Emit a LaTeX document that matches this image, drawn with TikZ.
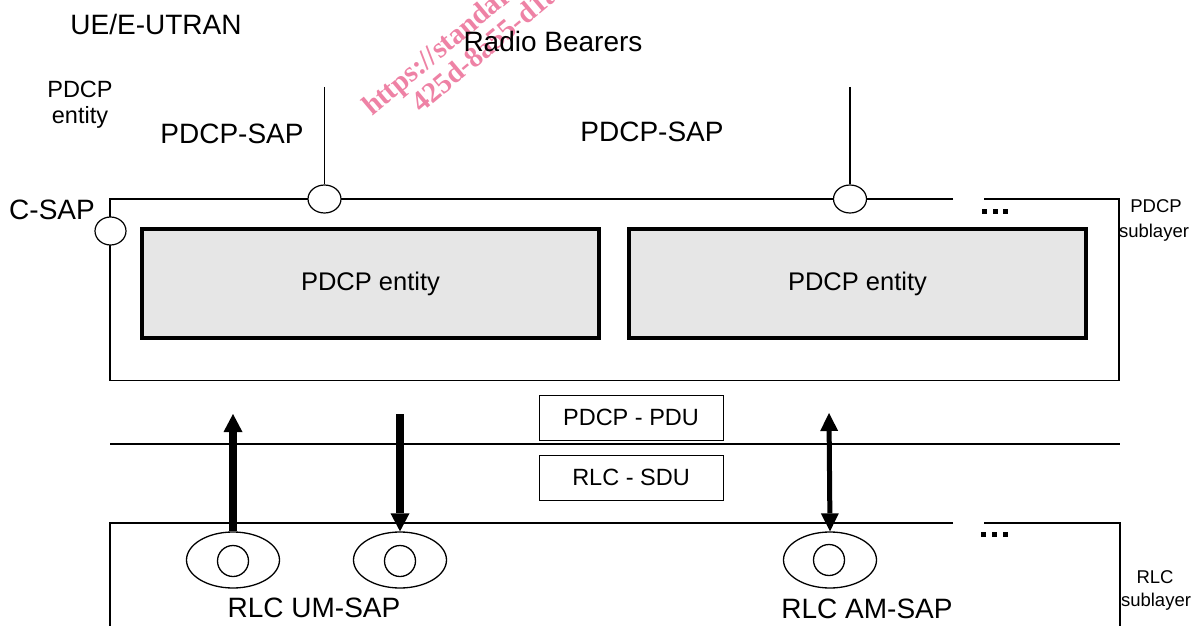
\documentclass[tikz,border=0pt]{standalone}
\usepackage{fontspec}
\setmainfont{Liberation Sans}
\newfontfamily\wmfont{Liberation Serif}
\usetikzlibrary{shapes.geometric,arrows.meta}
\definecolor{wmpink}{RGB}{238,130,165}
\definecolor{entfill}{RGB}{230,230,230}
\begin{document}
\begin{tikzpicture}[x=1pt,y=-1pt,
  frame/.style={line width=1.3pt, line join=miter},
  lbl/.style={inner sep=0pt, anchor=base, font=\fontsize{28}{33}\selectfont},
  small/.style={inner sep=0pt, anchor=base, font=\fontsize{23.5}{27}\selectfont},
  tiny/.style={inner sep=0pt, anchor=base, font=\fontsize{18.5}{22}\selectfont},
  wm/.style={inner sep=0pt, text=wmpink, font=\fontsize{29}{32}\wmfont\bfseries},
  sap/.style={ellipse, draw, fill=white, line width=1.2pt, minimum width=33pt, minimum height=28pt, inner sep=0pt},
  rlcsap/.style={ellipse, draw, line width=1.3pt, minimum width=93pt, minimum height=56pt, inner sep=0pt},
  innercirc/.style={circle, draw, line width=1.3pt, minimum size=31pt, inner sep=0pt},
  entity/.style={draw, fill=entfill, line width=4pt, minimum width=457pt, minimum height=109pt, inner sep=0pt, font=\fontsize{25.5}{30}\selectfont},
  pdubox/.style={draw, line width=1pt, minimum width=184pt, minimum height=45pt, inner sep=0pt, font=\fontsize{23.5}{27}\selectfont},
  bigarrow/.style={line width=8pt, -{Triangle[length=18pt,width=19pt,line width=0pt]}},
  dblarrow/.style={line width=5pt, {Triangle[length=18pt,width=18pt,line width=0pt]}-{Triangle[length=18pt,width=18pt,line width=0pt]}},
  dot/.style={fill=black}
]
\useasboundingbox (0,0) rectangle (1200,626);

% watermark
\begin{scope}
\clip (0,0) rectangle (1200,626);
\node[wm, anchor=base west, rotate=40] (wm1) at (372,117) {https://standards};
\node[wm, anchor=base west, rotate=40] (wm2) at (421,114) {425d-8a55-d1a2};
\end{scope}

% titles
\node[lbl] (ue) at (156,35) {UE/E-UTRAN};
\node[lbl] (rb) at (553,52) {Radio Bearers};
\node[small] (pe1) at (80,97) {PDCP};
\node[small] (pe2) at (80,124) {entity};
\node[lbl] (psap1) at (232,143) {PDCP-SAP};
\node[lbl] (psap2) at (652,141) {PDCP-SAP};
\node[lbl] (csapl) at (52,219) {C-SAP};

% PDCP sublayer frame
\draw[frame] (953,199) -- (110,199) -- (110,380.5) -- (1119,380.5) -- (1119,199) -- (984,199);
\node[entity] (ent1) at (370.5,283.5) {PDCP entity};
\node[entity] (ent2) at (857.5,283.5) {PDCP entity};

% SAPs on PDCP frame
\node[sap] (sap1) at (324.5,199) {};
\node[sap] (sap2) at (850,199) {};
\node[sap, minimum width=31pt] (csap) at (110.5,231) {};
\coordinate (rbtop1) at (324.5,87);
\coordinate (rbtop2) at (850,87);
\draw[frame] (rbtop1) -- (sap1.north);
\draw[frame] (rbtop2) -- (sap2.north);

% dots
\foreach \i in {0,1,2} {
  \fill[dot] (982+\i*10.5,209) rectangle ++(5,5);
  \fill[dot] (981+\i*11,532) rectangle ++(5,5);
}

\node[tiny] (ps1) at (1156,212) {PDCP};
\node[tiny] (ps2) at (1154,237) {sublayer};

% boundary line
\coordinate (hl1) at (110,444);
\coordinate (hl2) at (1120,444);
\draw[frame] (hl1) -- (hl2);

\node[pdubox] (pdu) at (631,417.5) {PDCP - PDU};
\node[pdubox] (sdu) at (631,477.5) {RLC - SDU};

% RLC sublayer frame
\draw[frame] (953,523) -- (110,523) -- (110,632);
\draw[frame] (984,523) -- (1120,523) -- (1120,632);

\node[rlcsap] (um1) at (233,560) {};
\node[innercirc] (um1c) at (233,561) {};
\node[rlcsap] (um2) at (400,560) {};
\node[innercirc] (um2c) at (400,561) {};
\node[rlcsap] (am) at (830,560) {};
\node[innercirc] (amc) at (829,560) {};

\coordinate (up1) at (233,414);
\coordinate (dn1) at (400,414);
\coordinate (bi1) at (829,413);
\draw[bigarrow] (um1.north) -- (up1);
\draw[bigarrow] (dn1) -- (um2.north);
\draw[dblarrow] (bi1) -- (am.north);

\node[lbl] (umlbl) at (314,617) {RLC UM-SAP};
\node[lbl] (amlbl) at (867,618) {RLC AM-SAP};
\node[tiny] (rs1) at (1155,583) {RLC};
\node[tiny] (rs2) at (1156,606) {sublayer};
\end{tikzpicture}
\end{document}
